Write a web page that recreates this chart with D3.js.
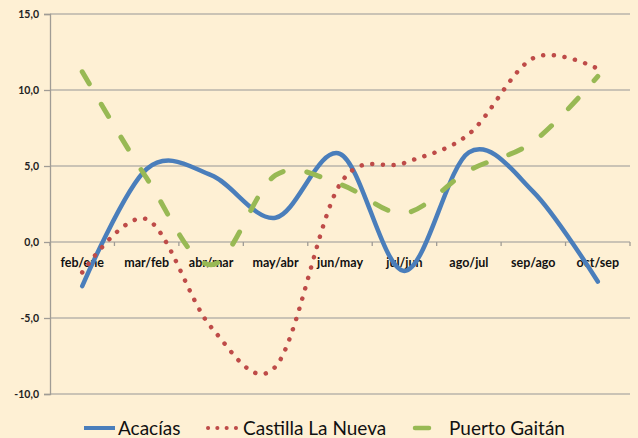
<!DOCTYPE html>
<html>
<head>
<meta charset="utf-8">
<script src="https://cdn.jsdelivr.net/npm/d3@7"></script>
<style>
  body { margin: 0; background: #fef0d4; }
  svg { display: block; }
  text { font-family: Lato, "Open Sans", sans-serif; }
</style>
</head>
<body>
<svg id="chart"></svg>
<script>
// Chart data
const categories = ["feb/ene", "mar/feb", "abr/mar", "may/abr", "jun/may", "jul/jun", "ago/jul", "sep/ago", "oct/sep"];
const acacias = [-2.9, 4.8, 4.4, 1.6, 5.8, -1.9, 5.9, 3.3, -2.6];
const castilla = [-2.0, 1.5, -5.6, -8.2, 3.8, 5.2, 7.1, 12.1, 11.4];
const gaitan = [11.2, 4.2, -1.5, 4.4, 3.8, 1.9, 4.7, 6.6, 10.9];
const yTicks = [-10, -5, 0, 5, 10, 15];

const W = 638, H = 438;
const margin = { top: 14, right: 8, bottom: 44, left: 50 };
const width = W - margin.left - margin.right;
const height = H - margin.top - margin.bottom;

const svg = d3.select("#chart").attr("width", W).attr("height", H);

svg.append("rect")
    .attr("width", W)
    .attr("height", H)
    .attr("fill", "#fef0d4");

const g = svg.append("g")
    .attr("transform", "translate(" + margin.left + "," + margin.top + ")");

const x = d3.scaleBand()
    .domain(categories)
    .range([0, width]);

const y = d3.scaleLinear()
    .domain([-10, 15])
    .range([height, 0]);

// Grid lines
g.append("g")
    .selectAll("line")
    .data(yTicks)
    .enter().append("line")
    .attr("x1", 0)
    .attr("x2", width)
    .attr("y1", d => y(d))
    .attr("y2", d => y(d))
    .attr("stroke", "#b8b4ab")
    .attr("stroke-width", 1.3);

// Y axis
const yAxis = g.append("g")
    .call(d3.axisLeft(y)
        .tickValues(yTicks)
        .tickSize(6)
        .tickPadding(5)
        .tickFormat(d => d3.format(".1f")(d).replace(".", ",").replace("−", "-")));
yAxis.select(".domain").attr("stroke", "#a09c95").attr("stroke-width", 1.3);
yAxis.selectAll(".tick line").attr("stroke", "#a09c95").attr("stroke-width", 1.3);
yAxis.selectAll("text")
    .style("font-size", "10.5px")
    .style("font-weight", "bold")
    .style("fill", "#222");

// X axis on the zero line
const boundaries = categories.map(c => x(c)).concat([width]);
g.append("g")
    .selectAll("line")
    .data(boundaries)
    .enter().append("line")
    .attr("x1", d => d)
    .attr("x2", d => d)
    .attr("y1", y(0))
    .attr("y2", y(0) + 4)
    .attr("stroke", "#a09c95")
    .attr("stroke-width", 1.3);

g.append("g")
    .selectAll("text")
    .data(categories)
    .enter().append("text")
    .attr("x", d => x(d) + x.bandwidth() / 2)
    .attr("y", y(0) + 25)
    .attr("text-anchor", "middle")
    .style("font-size", "12.5px")
    .style("font-weight", "bold")
    .style("fill", "#111")
    .text(d => d);

// Lines
const series = [
    { name: "Acacías", values: acacias, color: "#4a7ebb", width: 4.5, dash: null },
    { name: "Castilla La Nueva", values: castilla, color: "#be4b48", width: 4.5, dash: "0.1 10.6" },
    { name: "Puerto Gaitán", values: gaitan, color: "#98b954", width: 5, dash: "14 24" }
];

const line = d3.line()
    .x((d, i) => x(categories[i]) + x.bandwidth() / 2)
    .y(d => y(d))
    .curve(d3.curveCardinal.tension(0));

series.forEach(s => {
    g.append("path")
        .datum(s.values)
        .attr("fill", "none")
        .attr("stroke", s.color)
        .attr("stroke-width", s.width)
        .attr("stroke-linecap", "round")
        .attr("stroke-linejoin", "round")
        .attr("stroke-dasharray", s.dash)
        .attr("d", line);
});

// Legend
const legendY = 428;
const legend = svg.append("g");

legend.append("line")
    .attr("x1", 84).attr("x2", 115)
    .attr("y1", legendY).attr("y2", legendY)
    .attr("stroke", "#4a7ebb").attr("stroke-width", 4);
legend.append("text")
    .attr("x", 118).attr("y", legendY + 7)
    .style("font-size", "19px").style("fill", "#111")
    .text("Acacías");

legend.append("line")
    .attr("x1", 208).attr("x2", 237)
    .attr("y1", legendY).attr("y2", legendY)
    .attr("stroke", "#be4b48").attr("stroke-width", 4)
    .attr("stroke-linecap", "round")
    .attr("stroke-dasharray", "0.1 9.2");
legend.append("text")
    .attr("x", 243).attr("y", legendY + 7)
    .style("font-size", "19px").style("fill", "#111")
    .text("Castilla La Nueva");

legend.append("line")
    .attr("x1", 415).attr("x2", 429)
    .attr("y1", legendY).attr("y2", legendY)
    .attr("stroke", "#98b954").attr("stroke-width", 4.5)
    .attr("stroke-linecap", "round");
legend.append("text")
    .attr("x", 449).attr("y", legendY + 7)
    .style("font-size", "19px").style("fill", "#111")
    .text("Puerto Gaitán");
</script>
</body>
</html>
